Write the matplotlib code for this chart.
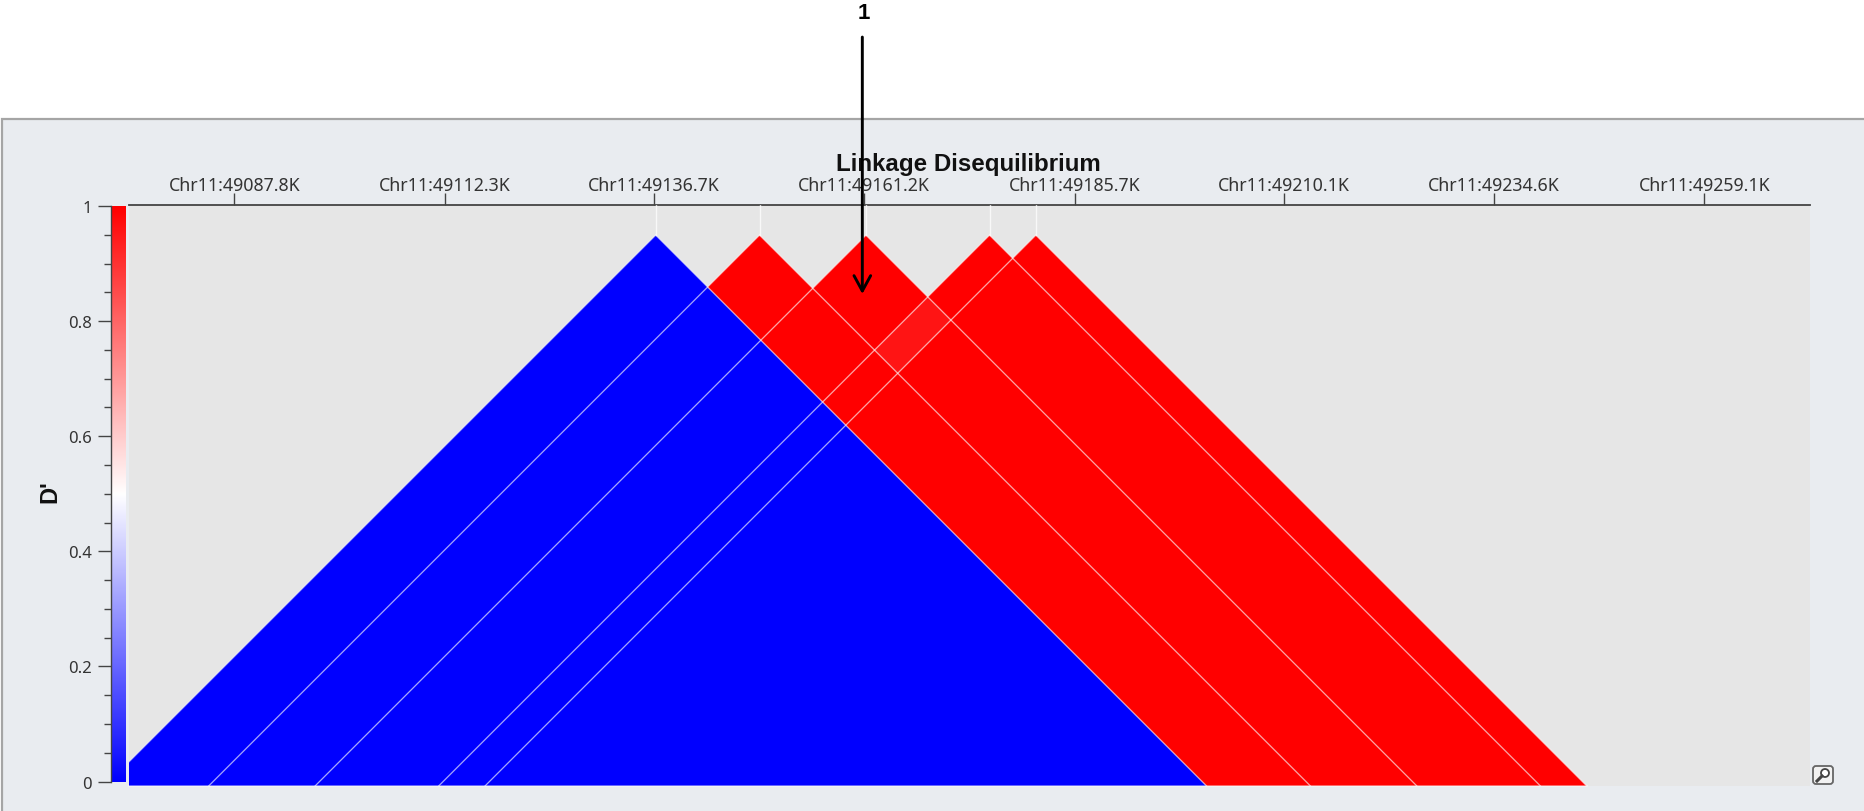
import numpy as np
import matplotlib
matplotlib.use('Agg')
import matplotlib.pyplot as plt
from matplotlib.collections import PolyCollection
from matplotlib.colors import LinearSegmentedColormap
from matplotlib.patches import Rectangle, FancyArrowPatch, FancyBboxPatch, Circle
from matplotlib.lines import Line2D

plt.rcParams['font.family'] = ['Noto Sans', 'DejaVu Sans']

W, H = 1865, 812
k = W / 1568  # layout was measured on the shrunk picture

# values
tick_pos = [49087.8, 49112.3, 49136.7, 49161.2, 49185.7, 49210.1, 49234.6, 49259.1]
tick_labels = ['Chr11:49087.8K', 'Chr11:49112.3K', 'Chr11:49136.7K', 'Chr11:49161.2K',
               'Chr11:49185.7K', 'Chr11:49210.1K', 'Chr11:49234.6K', 'Chr11:49259.1K']
snp_pos = [49136.9, 49149.0, 49161.4, 49175.8, 49181.2]
# D' per cell, rows = band left of each SNP, columns = band right of each SNP
dprime = [[0, 0, 0, 0, 0],
          [None, 1, 1, 1, 1],
          [None, None, 1, 0.96, 1],
          [None, None, None, 1, 1],
          [None, None, None, None, 1]]
cbar_ticks = [0, 0.2, 0.4, 0.6, 0.8, 1]
cbar_labels = ['0', '0.2', '0.4', '0.6', '0.8', '1']
cbar_minor = [0.05, 0.1, 0.15, 0.25, 0.3, 0.35, 0.45, 0.5, 0.55, 0.65, 0.7, 0.75, 0.85, 0.9, 0.95]


def fx(x):
    return x * k / W


def fy(y):
    return 1 - y * k / H


def box(x0, y0, x1, y1):
    return [fx(x0), fy(y1), fx(x1) - fx(x0), fy(y0) - fy(y1)]


fig = plt.figure(figsize=(W / 100, H / 100), dpi=100, facecolor='white')
fig.add_artist(Rectangle((fx(2), -0.01), 1.01, fy(101) + 0.01, transform=fig.transFigure,
                         facecolor='#E9ECF0', edgecolor='#A5A5A5', linewidth=1.6, zorder=-5))

# main plot, same scale on both axes so the cells stay at 45 degrees
ax = fig.add_axes(box(108.5, 173, 1522, 661.5))
px_per_kb = (1433 - 197) / (tick_pos[-1] - tick_pos[0])
ax.set_xlim(tick_pos[0] - 88.5 / px_per_kb, tick_pos[0] + 1325 / px_per_kb)
ax.set_ylim(463 / px_per_kb, -25.5 / px_per_kb)
ax.set_facecolor('#E6E6E6')

far = 2000
p_edges = [snp_pos[0] - far] + snp_pos
q_edges = snp_pos + [snp_pos[-1] + far]


def corner(p, q):
    return ((p + q) / 2, (q - p) / 2)


polys = []
vals = []
for i in range(5):
    for j in range(i, 5):
        polys.append([corner(p_edges[i], q_edges[j]), corner(p_edges[i + 1], q_edges[j]),
                      corner(p_edges[i + 1], q_edges[j + 1]), corner(p_edges[i], q_edges[j + 1])])
        vals.append(dprime[i][j])

ld_cmap = LinearSegmentedColormap.from_list('ld', ['#0000FF', '#FFFFFF', '#FF0000'])
cells = PolyCollection(polys, array=np.array(vals, dtype=float), cmap=ld_cmap, clim=(0, 1),
                       edgecolors='none', antialiased=True, zorder=2)
ax.add_collection(cells)

# white SNP lines
bottom = ax.get_ylim()[0]
top = ax.get_ylim()[1]
for s in snp_pos:
    ax.plot([s, s], [top, 0], color='white', lw=1.0, alpha=0.75, zorder=3)
    ax.plot([s, s - bottom], [0, bottom], color='white', lw=1.0, alpha=0.55, zorder=3)
    ax.plot([s, s + bottom], [0, bottom], color='white', lw=1.0, alpha=0.55, zorder=3)
ax.plot([ax.get_xlim()[0], snp_pos[-1] + bottom], [bottom, bottom], color='white', lw=1.2,
        alpha=0.5, zorder=3, clip_on=False)

for side in ['left', 'right', 'bottom']:
    ax.spines[side].set_visible(False)
ax.spines['top'].set_color('#444444')
ax.spines['top'].set_linewidth(1.3)
ax.set_yticks([])
ax.set_xticks(tick_pos)
ax.set_xticklabels(tick_labels, fontsize=12.8, color='#333333')
ax.tick_params(axis='x', top=True, labeltop=True, bottom=False, labelbottom=False,
               length=8.5, width=1, color='#444444', pad=-1)

# colour bar
cax = fig.add_axes(box(93, 174, 105.5, 658))
cax.imshow(np.linspace(1, 0, 256).reshape(-1, 1), cmap=ld_cmap, aspect='auto',
           extent=[0, 1, 0, 1], vmin=0, vmax=1)
for side in ['top', 'right', 'bottom']:
    cax.spines[side].set_visible(False)
cax.spines['left'].set_color('#444444')
cax.spines['left'].set_linewidth(1)
cax.set_xticks([])
cax.set_yticks(cbar_ticks)
cax.set_yticklabels(cbar_labels, fontsize=12, color='#333333')
cax.set_yticks(cbar_minor, minor=True)
cax.tick_params(axis='y', which='major', length=9.5, width=1, color='#444444', pad=4)
cax.tick_params(axis='y', which='minor', length=5, width=1, color='#444444')

fig.text(fx(42), fy(413), "D'", rotation=90, ha='center', va='center', fontsize=17,
         fontweight='bold', color='#111111', family='Liberation Sans')
fig.text(fx(814), fy(138), 'Linkage Disequilibrium', ha='center', va='center', fontsize=17.4,
         fontweight='bold', color='#111111', family='Liberation Sans')
fig.text(fx(726), fy(11), '1', ha='center', va='center', fontsize=16, fontweight='bold',
         color='black', family='Liberation Sans')

fig.add_artist(FancyArrowPatch((fx(725), fy(32)), (fx(725), fy(248)), transform=fig.transFigure,
                               arrowstyle='->,head_length=11,head_width=6', color='black',
                               linewidth=2.1, shrinkA=0, shrinkB=0, zorder=10))

# zoom button, bottom right
bx = fig.add_axes([1810.0 / W, 1 - 788.0 / H, 26.0 / W, 24.0 / H])
bx.set_xlim(0, 26)
bx.set_ylim(0, 24)
bx.axis('off')
bx.add_patch(FancyBboxPatch((3, 3), 20, 18, boxstyle='round,pad=0,rounding_size=3', facecolor='#F2F2F2',
                            edgecolor='#666666', linewidth=1.3))
bx.add_patch(Circle((15, 14), 4, facecolor='white', edgecolor='#444444', linewidth=1.3))
bx.add_line(Line2D([12, 7], [11, 6], color='#444444', linewidth=2.2))

fig.savefig('out.png', dpi=100)
